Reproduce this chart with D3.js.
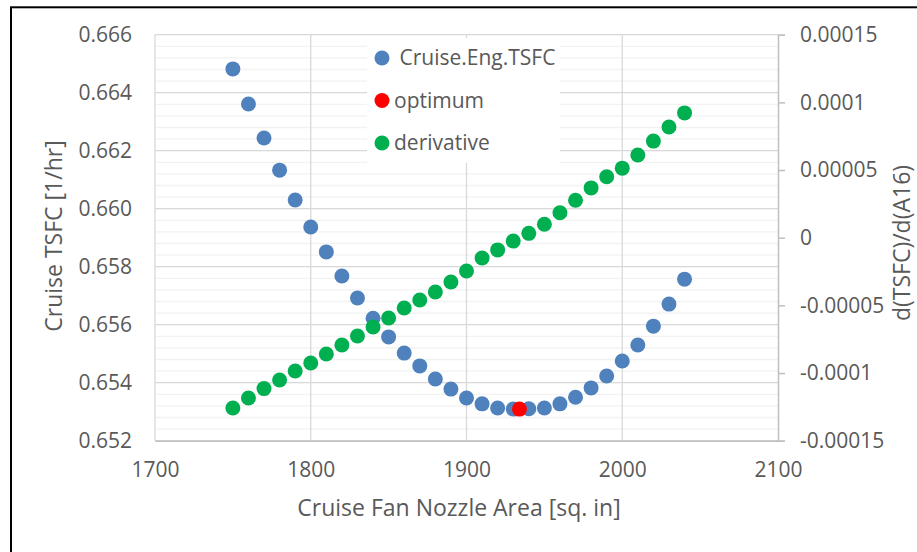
<!DOCTYPE html>
<html>
<head>
<meta charset="utf-8">
<script src="https://cdn.jsdelivr.net/npm/d3@7"></script>
<style>
  body { margin: 0; background: #fff; }
  text { font-family: "Open Sans", sans-serif; fill: #595959; }
</style>
</head>
<body>
<svg width="917" height="552"></svg>
<script>
// nozzle area [sq. in]
var area = [1750, 1760, 1770, 1780, 1790, 1800, 1810, 1820, 1830, 1840,
            1850, 1860, 1870, 1880, 1890, 1900, 1910, 1920, 1930, 1940,
            1950, 1960, 1970, 1980, 1990, 2000, 2010, 2020, 2030, 2040];
// Cruise.Eng.TSFC
var tsfc = [0.66482, 0.66361, 0.66244, 0.66133, 0.66030, 0.65937, 0.65851, 0.65768, 0.65692, 0.65622,
            0.65558, 0.65502, 0.65458, 0.65413, 0.65378, 0.65347, 0.65327, 0.65313, 0.65309, 0.65310,
            0.65313, 0.65327, 0.65350, 0.65382, 0.65423, 0.65475, 0.65530, 0.65595, 0.65671, 0.65757];
// derivative d(TSFC)/d(A16)
var deriv = [-1.258e-4, -1.185e-4, -1.115e-4, -1.052e-4, -0.985e-4, -0.926e-4, -0.859e-4, -0.793e-4, -0.726e-4, -0.660e-4,
             -0.593e-4, -0.519e-4, -0.460e-4, -0.401e-4, -0.327e-4, -0.246e-4, -0.150e-4, -0.090e-4, -0.025e-4, 0.032e-4,
             0.099e-4, 0.184e-4, 0.277e-4, 0.368e-4, 0.450e-4, 0.514e-4, 0.611e-4, 0.714e-4, 0.818e-4, 0.922e-4];
var optimum = [{x: 1934, y: 0.65309}];

var xTicks = [1700, 1800, 1900, 2000, 2100];
var yTicks = [0.652, 0.654, 0.656, 0.658, 0.660, 0.662, 0.664, 0.666];
var y2Ticks = [-0.00015, -0.0001, -0.00005, 0, 0.00005, 0.0001, 0.00015];
var y2Labels = ["-0.00015", "-0.0001", "-0.00005", "0", "0.00005", "0.0001", "0.00015"];

var legendItems = [
    {name: " Cruise.Eng.TSFC", color: "#4f81bd"},
    {name: "optimum", color: "#ff0000"},
    {name: "derivative", color: "#00b050"}
];

var svg = d3.select("svg");
var pLeft = 155, pRight = 778, pTop = 34.7, pBottom = 440.7;

var x = d3.scaleLinear().domain([1700, 2100]).range([pLeft, pRight]);
var y = d3.scaleLinear().domain([0.652, 0.666]).range([pBottom, pTop]);
var y2 = d3.scaleLinear().domain([-0.00015, 0.00015]).range([pBottom, pTop]);

// outer frame
svg.append("rect")
    .attr("x", 11).attr("y", 7.3)
    .attr("width", 950).attr("height", 600)
    .attr("fill", "none").attr("stroke", "#000").attr("stroke-width", 2);

// minor gridlines
var minor = d3.range(0.652, 0.6660001, 0.0004);
svg.append("g").selectAll("line").data(minor).enter().append("line")
    .attr("x1", pLeft).attr("x2", pRight)
    .attr("y1", function(d){ return y(d); }).attr("y2", function(d){ return y(d); })
    .attr("stroke", "#f2f2f2").attr("stroke-width", 1.3);

// major gridlines
svg.append("g").selectAll("line").data(yTicks).enter().append("line")
    .attr("x1", pLeft).attr("x2", pRight)
    .attr("y1", function(d){ return y(d); }).attr("y2", function(d){ return y(d); })
    .attr("stroke", "#d9d9d9").attr("stroke-width", 1.3);
svg.append("g").selectAll("line").data(xTicks.slice(0, 4)).enter().append("line")
    .attr("x1", function(d){ return x(d); }).attr("x2", function(d){ return x(d); })
    .attr("y1", pTop).attr("y2", pBottom)
    .attr("stroke", "#d9d9d9").attr("stroke-width", 1.3);

// axes
var gx = svg.append("g").attr("transform", "translate(0," + pBottom + ")")
    .call(d3.axisBottom(x).tickValues(xTicks).tickSize(0).tickPadding(21).tickFormat(d3.format("d")));
gx.select(".domain").attr("stroke", "#bfbfbf").attr("stroke-width", 1.5);

var gy = svg.append("g").attr("transform", "translate(" + pLeft + ",0)")
    .call(d3.axisLeft(y).tickValues(yTicks).tickSize(0).tickPadding(23).tickFormat(d3.format(".3f")));
gy.select(".domain").remove();

var gy2 = svg.append("g").attr("transform", "translate(" + pRight + ",0)")
    .call(d3.axisRight(y2).tickValues(y2Ticks).tickSize(7).tickPadding(15)
        .tickFormat(function(d, i){ return y2Labels[i]; }));
gy2.select(".domain").attr("stroke", "#bfbfbf").attr("stroke-width", 1.5);
gy2.selectAll(".tick line").attr("stroke", "#bfbfbf").attr("stroke-width", 1.5);

svg.selectAll(".tick text")
    .attr("font-family", "'Open Sans', sans-serif")
    .attr("font-size", 21).attr("fill", "#595959");

// axis titles
svg.append("text")
    .attr("transform", "translate(54,236) rotate(-90)")
    .attr("text-anchor", "middle").attr("dy", "0.35em").attr("font-size", 23)
    .text("Cruise TSFC [1/hr]");
svg.append("text")
    .attr("transform", "translate(902,243) rotate(-90)")
    .attr("text-anchor", "middle").attr("dy", "0.35em").attr("font-size", 23)
    .text("d(TSFC)/d(A16)");
svg.append("text")
    .attr("x", 459).attr("y", 508)
    .attr("text-anchor", "middle").attr("dy", "0.35em").attr("font-size", 23)
    .text("Cruise Fan Nozzle Area [sq. in]");

// series
svg.append("g").selectAll("circle").data(area).enter().append("circle")
    .attr("cx", function(d){ return x(d); })
    .attr("cy", function(d, i){ return y(tsfc[i]); })
    .attr("r", 7.5).attr("fill", "#4f81bd");
svg.append("g").selectAll("circle").data(optimum).enter().append("circle")
    .attr("cx", function(d){ return x(d.x); })
    .attr("cy", function(d){ return y(d.y); })
    .attr("r", 7.5).attr("fill", "#ff0000");
svg.append("g").selectAll("circle").data(area).enter().append("circle")
    .attr("cx", function(d){ return x(d); })
    .attr("cy", function(d, i){ return y2(deriv[i]); })
    .attr("r", 7.5).attr("fill", "#00b050");

// legend
var lg = svg.append("g");
lg.append("rect").attr("x", 367).attr("y", 38).attr("width", 193).attr("height", 125).attr("fill", "#fff");
lg.selectAll("circle").data(legendItems).enter().append("circle")
    .attr("cx", 382).attr("cy", function(d, i){ return 58 + i * 42.5; })
    .attr("r", 7.5).attr("fill", function(d){ return d.color; });
lg.selectAll("text").data(legendItems).enter().append("text")
    .attr("x", 394).attr("y", function(d, i){ return 58 + i * 42.5; })
    .attr("dy", "0.35em").attr("font-size", 21)
    .attr("xml:space", "preserve")
    .style("white-space", "pre")
    .text(function(d){ return d.name; });
</script>
</body>
</html>
